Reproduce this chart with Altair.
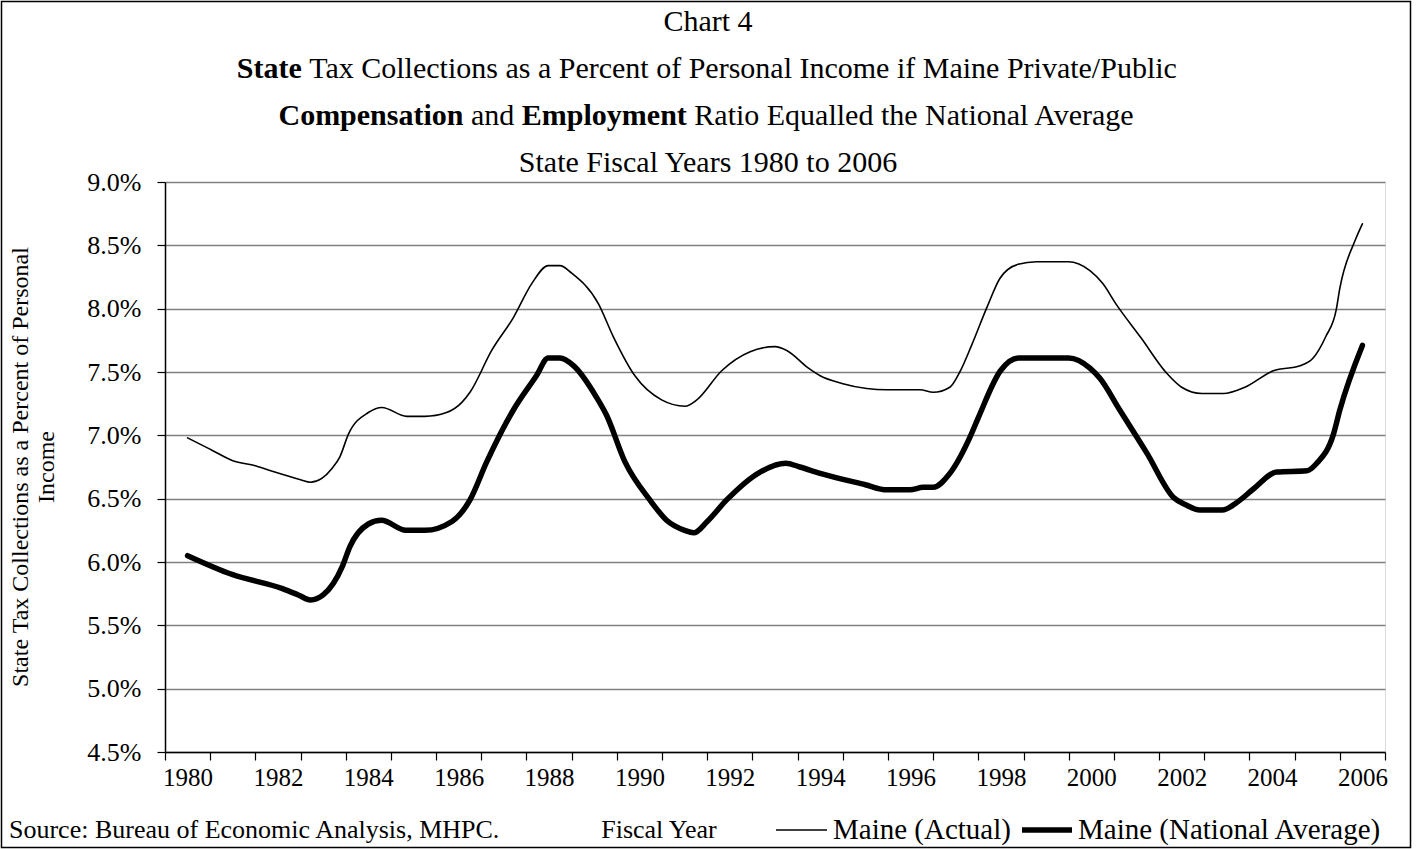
import altair as alt
import pandas as pd

# ---------------- data ----------------
series_names = ["Maine (Actual)", "Maine (National Average)"]

actual_years = [1980.0, 1980.5, 1981.0, 1981.5, 1981.93, 1982.5, 1982.72, 1982.97, 1983.2,
                1983.37, 1983.56, 1984.0, 1984.3, 1984.85, 1985.25, 1985.73, 1986.07, 1986.25,
                1986.73, 1987.21, 1987.62, 1987.98, 1988.24, 1988.5, 1989.09, 1989.42, 1989.9,
                1990.49, 1991.01, 1991.27, 1991.82, 1992.45, 1993.0, 1993.26, 1993.74, 1994.0,
                1994.48, 1995.03, 1995.47, 1995.99, 1996.21, 1996.5, 1996.87, 1997.09, 1997.35,
                1997.69, 1997.98, 1998.38, 1998.79, 1999.49, 1999.97, 2000.25, 2000.56, 2001.1,
                2001.67, 2002.0, 2002.45, 2002.92, 2003.4, 2004.03, 2004.62, 2004.91, 2005.19,
                2005.42, 2005.5, 2005.84, 2006.0]
actual_vals = [6.98, 6.89, 6.80, 6.76, 6.71, 6.65, 6.63, 6.66, 6.74,
               6.83, 7.01, 7.18, 7.22, 7.15, 7.15, 7.18, 7.26, 7.34,
               7.67, 7.93, 8.20, 8.34, 8.34, 8.28, 8.04, 7.78, 7.47,
               7.28, 7.23, 7.28, 7.51, 7.66, 7.70, 7.67, 7.53, 7.47,
               7.41, 7.37, 7.36, 7.36, 7.36, 7.34, 7.38, 7.50, 7.71,
               8.01, 8.24, 8.35, 8.37, 8.37, 8.30, 8.20, 8.03, 7.77,
               7.49, 7.38, 7.33, 7.33, 7.38, 7.51, 7.55, 7.61, 7.78,
               7.99, 8.16, 8.54, 8.67]

natavg_years = [1980.0, 1981.0, 1982.1, 1982.45, 1982.72, 1983.0, 1983.43, 1983.59, 1984.0,
                1984.29, 1984.83, 1985.25, 1985.85, 1986.25, 1986.62, 1987.21, 1987.72, 1987.98,
                1988.24, 1988.54, 1989.05, 1989.27, 1989.68, 1990.23, 1990.6, 1991.0, 1991.2,
                1991.5, 1991.93, 1992.67, 1993.24, 1993.55, 1994.0, 1995.0, 1995.47, 1995.99,
                1996.28, 1996.5, 1996.87, 1997.32, 1997.5, 1997.99, 1998.39, 1999.02, 1999.5,
                1999.97, 2000.19, 2000.63, 2001.23, 2001.82, 2002.1, 2002.4, 2002.9, 2003.22,
                2003.6, 2004.1, 2004.77, 2004.99, 2005.36, 2005.5, 2006.0]
natavg_vals = [6.05, 5.90, 5.79, 5.74, 5.70, 5.74, 5.97, 6.12, 6.30,
               6.33, 6.25, 6.25, 6.32, 6.49, 6.79, 7.20, 7.47, 7.61,
               7.61, 7.55, 7.30, 7.16, 6.79, 6.49, 6.33, 6.25, 6.23,
               6.32, 6.49, 6.71, 6.78, 6.75, 6.70, 6.61, 6.57, 6.57,
               6.59, 6.59, 6.70, 6.99, 7.14, 7.51, 7.61, 7.61, 7.61,
               7.53, 7.45, 7.20, 6.86, 6.51, 6.45, 6.41, 6.41, 6.47,
               6.58, 6.71, 6.72, 6.78, 7.01, 7.20, 7.71]

category_years = list(range(1980, 2007))
y_ticks = [4.5, 5.0, 5.5, 6.0, 6.5, 7.0, 7.5, 8.0, 8.5, 9.0]

chart_title = "Chart 4"
title_line2 = [("State", "bold"), ("Tax Collections as a Percent of Personal Income if Maine Private/Public", "normal")]
title_line3 = [("Compensation", "bold"), ("and", "normal"), ("Employment", "bold"),
               ("Ratio Equalled the National Average", "normal")]
title_line4 = "State Fiscal Years 1980 to 2006"
y_title = ["State Tax Collections as a Percent of Personal", "Income"]
x_title = "Fiscal Year"
source_note = "Source: Bureau of Economic Analysis, MHPC."

# ---------------- layout ----------------
FONT = "Liberation Serif"
OX, OY = 165, 182          # plot origin on the canvas
W, H = 1220, 570

df = pd.concat([
    pd.DataFrame({"series": series_names[0], "year": actual_years, "value": actual_vals}),
    pd.DataFrame({"series": series_names[1], "year": natavg_years, "value": natavg_vals}),
])

tick_bounds = [y - 0.5 for y in category_years] + [category_years[-1] + 0.5]

lines = alt.Chart(df).mark_line(color="black", interpolate="monotone", strokeJoin="round", strokeCap="round").encode(
    x=alt.X("year:Q",
            scale=alt.Scale(domain=[tick_bounds[0], tick_bounds[-1]], nice=False, zero=False),
            axis=alt.Axis(values=tick_bounds, title=None, grid=False,
                          labelExpr="(round(datum.value + 0.5) % 2 == 0) ? toString(round(datum.value + 0.5)) : ''",
                          labelOffset=W / len(category_years) / 2, labelOverlap=False, labelFlush=False,
                          labelBound=False, labelFont=FONT, labelFontSize=25, labelColor="black",
                          labelPadding=5, tickSize=8, tickColor="black", tickWidth=1.2,
                          domainColor="black", domainWidth=1.5)),
    y=alt.Y("value:Q",
            scale=alt.Scale(domain=[y_ticks[0], y_ticks[-1]], nice=False, zero=False),
            axis=alt.Axis(values=y_ticks, title=None, grid=True, gridColor="#808080", gridWidth=1.4,
                          labelExpr="format(datum.value, '.1f') + '%'",
                          labelFont=FONT, labelFontSize=26, labelColor="black", labelPadding=16,
                          tickSize=8, tickColor="black", tickWidth=1.2,
                          domainColor="black", domainWidth=1.5)),
    strokeWidth=alt.StrokeWidth("series:N", scale=alt.Scale(domain=series_names, range=[1.6, 5.5]), legend=None),
    detail="series:N",
)


def txt(text, x, y, size, weight="normal", align="left", angle=0):
    d = pd.DataFrame({"t": [text]})
    return alt.Chart(d).mark_text(font=FONT, fontSize=size, fontWeight=weight, align=align,
                                  baseline="middle", color="black", angle=angle).encode(
        x=alt.value(x - OX), y=alt.value(y - OY), text="t:N")


def rule(x1, x2, y, width):
    d = pd.DataFrame({"a": [0]})
    return alt.Chart(d).mark_rule(color="black", strokeWidth=width).encode(
        x=alt.value(x1 - OX), x2=alt.value(x2 - OX), y=alt.value(y - OY))


texts = [
    txt(chart_title, 708, 22, 30, align="center"),
    txt(title_line2[0][0], 301.7, 69, 30, weight="bold", align="right"),
    txt(title_line2[1][0], 309.2, 69, 30),
    txt(title_line3[0][0], 463.5, 116, 30, weight="bold", align="right"),
    txt(title_line3[1][0], 492.6, 116, 30, align="center"),
    txt(title_line3[2][0], 521.8, 116, 30, weight="bold"),
    txt(title_line3[3][0], 694.3, 116, 30),
    txt(title_line4, 708, 163, 30, align="center"),
    txt(y_title[0], 21, 467, 24, align="center", angle=270),
    txt(y_title[1], 47, 467, 24, align="center", angle=270),
    txt(source_note, 9, 830, 26),
    txt(x_title, 659, 830, 26, align="center"),
    rule(776, 827, 830, 1.6),
    txt(series_names[0], 833, 830, 29),
    rule(1022, 1072, 830, 5.5),
    txt(series_names[1], 1078, 830, 29),
]

border = alt.Chart(pd.DataFrame({"a": [0]})).mark_rect(
    fillOpacity=0, stroke="black", strokeWidth=1.5).encode(
    x=alt.value(1.5 - OX), x2=alt.value(1410.5 - OX), y=alt.value(1.5 - OY), y2=alt.value(847.5 - OY))

chart = alt.layer(lines, *texts, border).properties(
    width=W, height=H,
    padding={"left": OX, "top": OY, "right": 1416 - OX - W, "bottom": 849 - OY - H},
    autosize=alt.AutoSizeParams(type="none"),
).configure_view(stroke="#808080", strokeWidth=1.5).configure(background="white")

chart.save("out.html", embed_options={"renderer": "svg", "actions": False})
